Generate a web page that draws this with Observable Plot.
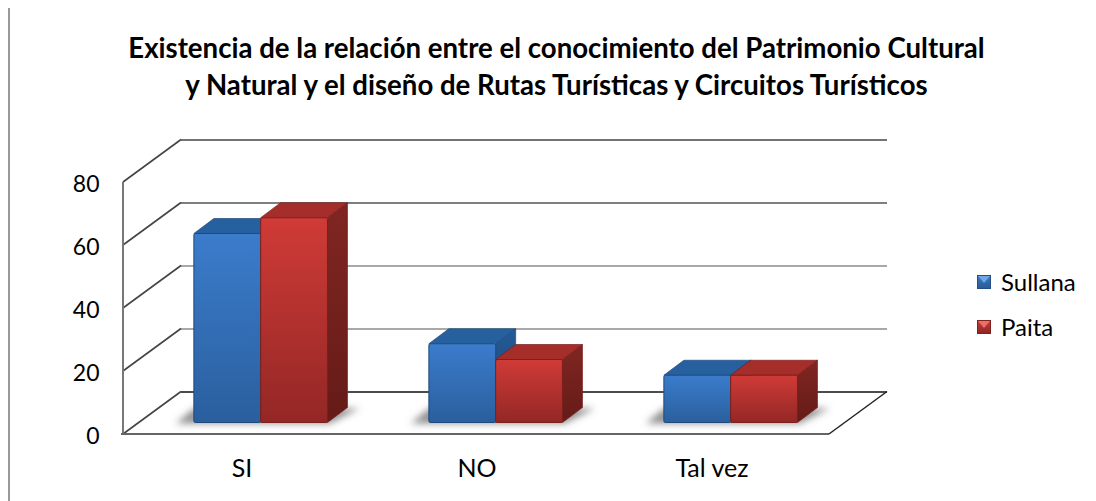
<!DOCTYPE html>
<html>
<head>
<meta charset="utf-8">
<script src="https://cdn.jsdelivr.net/npm/d3@7"></script>
<script src="https://cdn.jsdelivr.net/npm/@observablehq/plot@0.6"></script>
<style>
  html, body { margin: 0; padding: 0; background: #fff; }
  #page { position: relative; width: 1096px; height: 501px; overflow: hidden; font-family: Lato, "Open Sans", sans-serif; color: #000; }
  #rule { position: absolute; left: 8px; top: 8px; bottom: 0; width: 2px; background: #999; }
  h1 { margin: 0; position: absolute; left: 0; top: 29px; width: 1113px; text-align: center; font-size: 27.6px; line-height: 37px; font-weight: 700; }
  #chart { position: absolute; left: 0; top: 125px; }
  .key { position: absolute; left: 977px; font-size: 24px; line-height: 26px; height: 26px; padding-left: 24px; }
  .sw { position: absolute; left: 0; top: 6px; width: 14px; height: 14px; box-sizing: border-box; border: 1px solid; overflow: hidden; }
  .sw i { position: absolute; left: 0; top: 0; width: 0; height: 0; border-left: 6px solid transparent; border-right: 6px solid transparent; border-top: 7px solid; }
</style>
</head>
<body>
<div id="page">
  <div id="rule"></div>
  <h1>Existencia de la relación entre el conocimiento del Patrimonio Cultural<br>y Natural y el diseño de Rutas Turísticas y Circuitos Turísticos</h1>
  <div id="chart"></div>
  <div class="key" style="top:269px"><span class="sw" style="background:linear-gradient(#3a78c4,#2a5c96);border-color:#244f80"><i style="border-top-color:#6fa6e6"></i></span>Sullana</div>
  <div class="key" style="top:314px"><span class="sw" style="background:linear-gradient(#c93a36,#8f2725);border-color:#7d2220"><i style="border-top-color:#e86f6a"></i></span>Paita</div>
</div>
<script>
const categories = ["SI", "NO", "Tal vez"];
const sullana = [60, 25, 15];
const paita = [65, 20, 15];
const yTicks = [0, 20, 40, 60, 80];

const rowsOf = (values) => categories.map((category, i) => ({category, value: values[i]}));

// oblique projection of the 3D chart box
const wall = {dx: 58, dy: -42.5};
const depth = {dx: 20, dy: -15};
const base = {dx: 19, dy: -11.5};
const barWidth = 66.8;

const looks = [
  {front: "url(#fb)", top: "#27609f", side: "url(#sb)", edge: "#1f4a7c"},
  {front: "url(#fr)", top: "#a52e2a", side: "url(#sr)", edge: "#7a201d"}
];

function defs() {
  const d = d3.create("svg:defs");
  const grad = (id, a, b) => {
    const g = d.append("linearGradient").attr("id", id).attr("x1", 0).attr("y1", 0).attr("x2", 0).attr("y2", 1);
    g.append("stop").attr("offset", 0).attr("stop-color", a);
    g.append("stop").attr("offset", 1).attr("stop-color", b);
  };
  grad("fb", "#3b7ccb", "#2a5f9e");
  grad("sb", "#245a96", "#1b4472");
  grad("fr", "#d03b37", "#932725");
  grad("sr", "#802622", "#651b18");
  d.append("filter").attr("id", "soft").attr("x", "-30%").attr("y", "-60%").attr("width", "160%").attr("height", "220%")
    .append("feGaussianBlur").attr("stdDeviation", 3.5);
  return d.node();
}

const pts = (...p) => p.map((q) => q.join(",")).join(" ");
const bandOf = (dims) => (dims.width - dims.marginLeft - dims.marginRight) / categories.length;

// draws one series as prisms: front face, top face and side face
const prism = (j) => (index, scales, values, dims) => {
  const g = d3.create("svg:g");
  const look = looks[j];
  const band = bandOf(dims);
  for (const i of index) {
    const L = values.x[i] + band / 2 + (j - 1) * barWidth + base.dx;
    const R = L + barWidth;
    const B = values.y1[i] + base.dy;
    const T = values.y2[i] + base.dy;
    g.append("polygon").attr("fill", look.top)
      .attr("stroke", look.edge).attr("stroke-width", 0.7).attr("stroke-linejoin", "round")
      .attr("points", pts([L, T], [R, T], [R + depth.dx, T + depth.dy], [L + depth.dx, T + depth.dy]));
    g.append("polygon").attr("fill", look.side)
      .attr("stroke", look.edge).attr("stroke-width", 0.7).attr("stroke-linejoin", "round")
      .attr("points", pts([R, T], [R + depth.dx, T + depth.dy], [R + depth.dx, B + depth.dy], [R, B]));
    g.append("rect").attr("fill", look.front)
      .attr("stroke", look.edge).attr("stroke-width", 1)
      .attr("x", L).attr("y", T).attr("width", barWidth).attr("height", B - T).attr("rx", 1.5);
  }
  return g.node();
};

// soft shadow on the floor under each pair of prisms
const shadow = (index, scales, values, dims) => {
  const g = d3.create("svg:g");
  const band = bandOf(dims);
  for (const i of index) {
    const L = values.x[i] + band / 2 - barWidth + base.dx;
    const R = L + 2 * barWidth;
    const B = values.y1[i] + base.dy;
    g.append("polygon").attr("fill", "#555").attr("fill-opacity", 0.65).attr("filter", "url(#soft)")
      .attr("points", pts([L - 18, B + 1], [R + 2, B + 1], [R + depth.dx + 12, B + depth.dy + 1], [L, B + depth.dy + 1]));
  }
  return g.node();
};

// left side wall: diagonals going from the front axis to the back wall
const diagonals = (index, scales, values, dims) => {
  const g = d3.create("svg:g");
  const x0 = dims.marginLeft;
  for (const i of index) {
    g.append("line").attr("x1", x0).attr("y1", values.y[i]).attr("x2", x0 + wall.dx).attr("y2", values.y[i] + wall.dy)
      .attr("stroke", "#444").attr("stroke-width", 1.6);
  }
  g.append("line").attr("x1", x0).attr("y1", scales.y(yTicks[0])).attr("x2", x0).attr("y2", scales.y(yTicks[yTicks.length - 1]))
    .attr("stroke", "#777").attr("stroke-width", 2);
  return g.node();
};

// floor outline: front edge and right diagonal
const floor = (index, scales, values, dims) => {
  const g = d3.create("svg:g");
  const x0 = dims.marginLeft, x1 = dims.width - dims.marginRight;
  for (const i of index) {
    const y = values.y[i];
    g.append("line").attr("x1", x0 - 2).attr("y1", y).attr("x2", x1).attr("y2", y).attr("stroke", "#666").attr("stroke-width", 2);
    g.append("line").attr("x1", x1).attr("y1", y).attr("x2", x1 + wall.dx).attr("y2", y + wall.dy).attr("stroke", "#222").attr("stroke-width", 1.5);
  }
  return g.node();
};

const gridColor = (t) => (t === 0 ? "#111" : t === 80 ? "#444" : t === 60 ? "#555" : "#8c8c8c");

const plot = Plot.plot({
  width: 1096,
  height: 376,
  marginTop: 57,
  marginBottom: 67,
  marginLeft: 123,
  marginRight: 267,
  style: {background: "transparent", overflow: "visible", fontFamily: "Lato, 'Open Sans', sans-serif", fontSize: "22.5px", color: "#000"},
  x: {domain: categories, padding: 0, label: null},
  y: {domain: [0, 80], label: null},
  marks: [
    defs,
    Plot.ruleY(yTicks, {y: (d) => d, dx: wall.dx, dy: wall.dy, stroke: gridColor, strokeWidth: 1.6}),
    Plot.ruleY(yTicks, {y: (d) => d, render: diagonals}),
    Plot.ruleY([0], {y: (d) => d, render: floor}),
    Plot.barY(rowsOf(sullana), {x: "category", y: "value", render: shadow}),
    Plot.barY(rowsOf(sullana), {x: "category", y: "value", render: prism(0)}),
    Plot.barY(rowsOf(paita), {x: "category", y: "value", render: prism(1)}),
    Plot.axisY({ticks: yTicks, tickSize: 0, tickPadding: 24, dy: 2, label: null, fontSize: 23}),
    Plot.axisX({tickSize: 0, tickPadding: 25, label: null, fontSize: 25})
  ]
});
document.getElementById("chart").appendChild(plot);
</script>
</body>
</html>
